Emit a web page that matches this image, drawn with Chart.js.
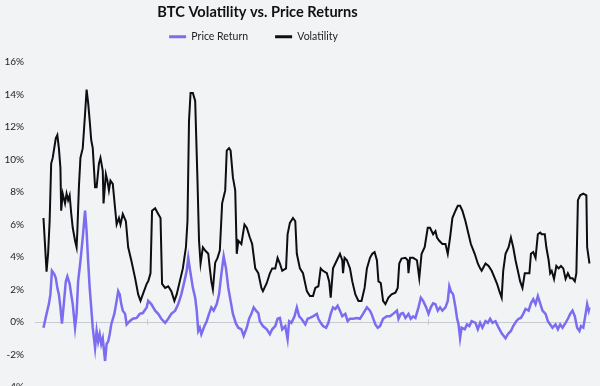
<!DOCTYPE html>
<html>
<head>
<meta charset="utf-8">
<script src="https://cdn.jsdelivr.net/npm/chart.js@4.4.1/dist/chart.umd.min.js"></script>
<style>
  html, body { margin: 0; padding: 0; background: #f2f3f5; overflow: hidden; }
  #wrap { width: 600px; height: 404px; }
</style>
</head>
<body>
<div id="wrap"><canvas id="chartCanvas" width="600" height="404"></canvas></div>
<script>
// days since start of the window
const retDays = [1,5,8,10,12,15,17,19,21,23,25,27,30,32,35,37,39,42,44,46,49,52,55,57,59,61,63,65,68,70,72,74,76,78,81,83,85,87,89,93,96,98,100,102,104,107,109,113,117,122,126,130,135,137,141,146,150,154,159,163,167,172,176,180,184,187,189,191,193,195,198,200,202,204,206,210,213,216,219,222,226,229,232,235,238,241,244,247,251,254,258,261,265,268,271,274,277,280,282,286,291,295,298,302,305,308,311,315,318,320,323,327,330,333,336,341,344,347,351,356,358,361,364,368,371,374,377,380,383,386,389,393,396,399,403,408,412,416,421,425,427,432,435,438,442,447,451,455,460,462,465,468,471,475,478,481,484,488,491,494,498,501,504,507,510,513,516,519,523,526,528,530,533,536,538,540,542,544,548,551,554,557,562,565,568,571,575,578,581,584,588,592,596,601,604,608,611,615,618,621,624,627,631,634,637,640,643,646,649,653,656,659,662,666,669,672,675,679,682,685,688,691,694,697,699,702,705,707,709,710];
const retValues = [-0.35,0.5,1.1,1.7,3.15,2.95,2.7,2.1,1.7,0.9,-0.1,0.9,2.5,2.8,2.35,1.7,1.1,-0.35,0.5,2.5,3.75,5.2,6.85,5.6,3.75,2.1,0.9,-0.35,-1.6,-0.55,-1.2,-0.75,-1.35,-1.0,-2.4,-1.35,-1.2,-0.75,-0.15,0.5,1.3,1.9,1.7,1.1,0.7,0.5,-0.15,0.05,0.2,0.25,0.5,0.55,0.9,1.3,1.1,0.7,0.5,0.2,-0.05,0.2,0.5,0.7,1.1,1.7,2.5,3.15,3.95,3.3,2.7,2.1,1.5,0.7,-0.55,-0.35,-0.75,-0.25,0.05,0.5,0.9,0.7,1.1,1.7,2.95,4.05,3.3,2.1,1.3,0.5,-0.1,-0.35,-0.45,-0.85,-0.35,0.2,0.5,0.9,0.7,0.55,0.05,-0.25,-0.45,-0.75,-0.45,-0.25,0.2,0.25,-0.45,-0.25,-1.05,0.05,-0.05,0.35,0.9,0.35,0.2,-0.15,0.2,0.25,0.35,0.5,0.2,-0.05,-0.25,-0.35,-0.05,0.5,0.9,0.8,1.0,0.7,0.35,0.5,0.05,0.2,0.2,0.25,0.2,0.5,0.9,0.7,0.5,-0.15,-0.35,-0.25,0.2,0.35,0.35,0.5,0.7,0.2,0.5,0.55,0.25,0.5,0.2,0.35,0.25,0.9,1.5,1.3,0.9,0.5,0.9,1.15,1.1,0.7,0.9,0.7,0.9,1.3,2.2,1.9,1.7,0.9,0.25,-0.15,-1.0,-0.35,-0.45,-0.15,-0.25,0.05,-0.05,-0.45,-0.05,-0.35,0.05,-0.05,0.2,-0.05,0.05,-0.35,-0.7,-1.0,-0.75,-0.55,-0.25,0.05,0.2,0.25,0.5,0.8,0.7,1.15,1.4,1.1,1.6,1.15,0.7,0.5,0.05,-0.15,-0.35,-0.15,-0.45,-0.15,-0.35,-0.05,0.2,0.5,0.7,0.35,-0.35,-0.55,-0.25,-0.35,0.5,1.1,0.7,0.9];

const volDays = [1,5,7,9,11,13,17,19,21,23,24,26,29,31,33,35,37,39,42,44,45,47,49,52,55,57,59,61,63,65,68,70,73,75,78,79,82,84,86,88,91,94,96,99,101,104,108,111,115,120,124,127,130,135,137,140,142,146,150,153,155,159,163,167,171,174,178,182,186,188,190,192,195,198,201,203,205,208,211,215,217,219,221,224,227,230,233,237,239,242,244,247,250,252,254,258,262,265,269,272,276,280,284,286,291,295,298,302,305,308,311,316,318,321,325,328,330,334,338,343,347,351,354,358,361,364,369,372,374,377,382,386,389,390,392,395,399,402,406,410,414,418,421,425,428,431,434,436,439,442,445,449,453,458,461,463,466,471,474,475,477,481,486,489,492,496,500,503,507,510,512,515,519,523,526,529,532,536,539,542,545,549,553,556,561,565,568,570,575,579,583,587,590,593,596,598,601,605,608,611,614,617,620,623,626,629,632,634,637,640,643,646,648,652,654,657,659,661,664,667,670,673,676,679,682,685,688,691,693,695,698,702,706,707,710];
const volValues = [6.4,3.1,4.2,6.2,9.75,10.1,11.3,11.5,10.7,9.5,6.85,7.9,7.3,7.9,7.5,7.8,6.7,5.8,5.0,4.6,5.6,8.3,10.1,10.7,12.8,14.3,13.5,12.4,11.2,10.7,8.3,8.3,9.75,10.1,9.3,7.3,9.1,8.7,8.1,8.7,8.5,7.0,6.0,6.4,6.0,6.65,6.2,4.6,3.8,2.7,1.7,1.3,1.7,2.35,2.5,3.0,6.85,7.0,6.65,6.4,2.35,2.1,2.2,1.9,1.3,1.7,2.5,3.3,4.6,6.2,12.4,14.1,14.1,13.6,8.7,5.0,3.6,4.6,4.4,4.2,3.3,2.5,2.0,3.65,3.95,4.4,7.3,8.1,10.55,10.7,10.55,8.9,8.1,4.2,5.0,4.8,6.0,5.8,5.2,4.8,3.3,3.0,2.1,1.9,2.4,3.0,3.3,3.3,3.95,3.6,3.15,3.3,5.4,6.1,6.4,6.2,4.2,3.3,3.0,1.9,1.6,1.6,2.1,2.2,3.3,3.15,3.0,2.5,1.5,3.3,3.8,4.2,3.8,3.0,3.95,3.8,3.3,2.5,1.7,1.3,1.3,2.1,3.3,3.95,4.2,4.3,3.8,2.5,2.4,1.3,1.1,1.5,1.7,1.8,2.1,3.6,3.9,3.95,3.8,3.0,3.95,3.95,3.8,2.7,4.2,4.6,5.8,5.8,5.4,5.6,5.2,5.0,4.8,4.8,4.2,5.2,6.4,6.85,7.15,7.15,6.85,6.2,5.4,4.8,4.2,3.6,3.3,3.15,3.6,3.45,3.15,2.7,2.35,1.9,1.5,3.15,4.2,4.6,5.2,4.6,3.8,3.15,2.5,2.1,3.0,3.0,3.0,4.2,4.3,3.95,5.4,5.5,5.4,5.4,4.6,3.8,3.0,3.15,2.65,3.45,3.3,3.45,3.3,2.65,3.0,2.7,2.7,2.5,3.0,7.5,7.8,7.9,7.8,4.6,3.6];

const yMin = -4;
const yMax = 16;
const yStep = 2;
const axisTickDays = [135, 500];

const ctx = document.getElementById("chartCanvas").getContext("2d");

// small ticks on the zero line
const zeroTicks = {
    id: "zeroTicks",
    afterDatasetsDraw(chart) {
        const x = chart.scales.x, y = chart.scales.y;
        const c = chart.ctx;
        c.save();
        c.strokeStyle = "#c9cace";
        c.lineWidth = 1;
        axisTickDays.forEach(d => {
            const px = Math.round(x.getPixelForValue(d)) + 0.5;
            const py = y.getPixelForValue(0);
            c.beginPath();
            c.moveTo(px, py - 3);
            c.lineTo(px, py + 3);
            c.stroke();
        });
        c.restore();
    }
};

// title and legend sit left of centre in the original, legend a bit higher
const shiftHeader = {
    id: "shiftHeader",
    afterLayout(chart) {
        if (chart.titleBlock) { chart.titleBlock.left -= 38; chart.titleBlock.right -= 38; }
        if (chart.legend) {
            chart.legend.left -= 42; chart.legend.right -= 42;
            chart.legend.top -= 10; chart.legend.bottom -= 10;
        }
    }
};

new Chart(ctx, {
    type: "line",
    data: {
        datasets: [{
            label: "Price Return",
            data: retDays.map((d, i) => ({ x: d, y: retValues[i] })),
            borderColor: "#7b6cf0",
            backgroundColor: "#7b6cf0",
            borderWidth: 2.5,
            pointRadius: 0,
            tension: 0
        }, {
            label: "Volatility",
            data: volDays.map((d, i) => ({ x: d, y: volValues[i] })),
            borderColor: "#0d0d12",
            backgroundColor: "#0d0d12",
            borderWidth: 2,
            pointRadius: 0,
            tension: 0
        }]
    },
    options: {
        responsive: false,
        animation: false,
        layout: { padding: { top: 2, right: 9, bottom: 2, left: 0 } },
        plugins: {
            title: {
                display: true,
                text: "BTC Volatility vs. Price Returns",
                color: "#111",
                font: { family: "Lato", size: 14.6, weight: "bold" },
                padding: { top: 2, bottom: -7 }
            },
            legend: {
                labels: {
                    color: "#222",
                    font: { family: "Lato", size: 10.5 },
                    boxWidth: 17,
                    boxHeight: 3,
                    padding: 27,
                    generateLabels(chart) {
                        return Chart.defaults.plugins.legend.labels.generateLabels(chart)
                            .map(l => Object.assign(l, { lineWidth: 0 }));
                    }
                }
            },
            tooltip: { enabled: false }
        },
        scales: {
            x: {
                type: "linear",
                min: -10,
                max: 712,
                display: false
            },
            y: {
                min: yMin,
                max: yMax,
                border: { display: false },
                afterFit(scale) { scale.width = 35; },
                grid: {
                    drawTicks: false,
                    color: c => c.tick.value === 0 ? "#c9cace" : "transparent"
                },
                ticks: {
                    stepSize: yStep,
                    padding: 11,
                    color: "#222",
                    font: { family: "Lato", size: 10 },
                    callback: v => v + "%"
                }
            }
        }
    },
    plugins: [zeroTicks, shiftHeader]
});
</script>
</body>
</html>
